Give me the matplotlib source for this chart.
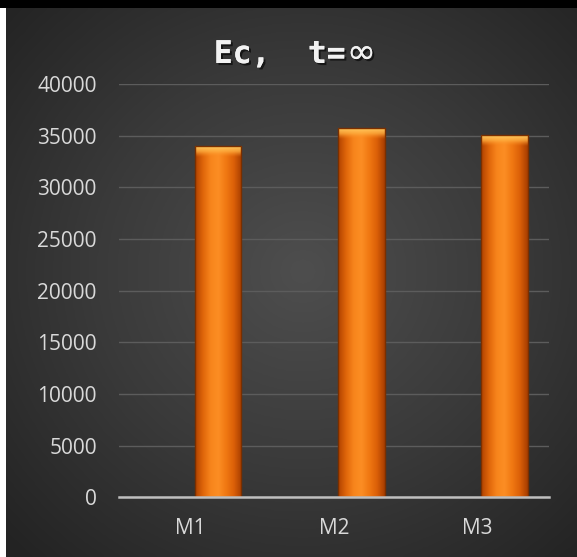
import numpy as np
import matplotlib
matplotlib.use("Agg")
import matplotlib.pyplot as plt
from matplotlib import patheffects
from matplotlib.colors import LinearSegmentedColormap
from matplotlib.patches import Rectangle

categories = ["M1", "M2", "M3"]
ec_values = [34000, 35700, 35100]
y_ticks = [0, 5000, 10000, 15000, 20000, 25000, 30000, 35000, 40000]

plt.rcParams["font.family"] = ["Open Sans", "DejaVu Sans"]

W, H = 577, 557
fig = plt.figure(figsize=(W / 100, H / 100), dpi=100)
fig.patch.set_facecolor("white")

# dark radial background of the chart area
bg = fig.add_axes([6 / W, 0, 1 - 6 / W, 1 - 8 / H])
yy, xx = np.mgrid[0:1:300j, 0:1:300j]
r = np.sqrt((xx - 0.52) ** 2 + (yy - 0.48) ** 2) / 0.72
shade = np.clip(1 - r, 0, 1)
bg_cmap = LinearSegmentedColormap.from_list("bg", ["#232323", "#3a3a3a", "#4e4e4e"])
bg.imshow(shade, cmap=bg_cmap, aspect="auto", extent=(0, 1, 0, 1), interpolation="bicubic")
bg.axis("off")
fig.add_artist(Rectangle((0, 1 - 8 / H), 1, 8 / H, transform=fig.transFigure,
                         facecolor="black", edgecolor="none"))

ax = fig.add_axes([119 / W, 1 - 497.3 / H, 430 / W, 413.3 / H])
ax.set_facecolor("none")

x = np.arange(len(categories))
bars = ax.bar(x + 0.19, ec_values, width=0.325, facecolor="none",
              edgecolor="#7a2f00", linewidth=1.0, zorder=4)

bar_cmap = LinearSegmentedColormap.from_list(
    "bar", ["#b04200", "#e0660a", "#f7851c", "#fc8e24", "#f07812", "#dc6008", "#a83e00"])
cap_cmap = LinearSegmentedColormap.from_list(
    "cap", [(1.0, 0.80, 0.38, 1.0), (1.0, 0.68, 0.25, 0.8), (0.98, 0.55, 0.13, 0.0)])
cap_h = 11 * 40000 / 413.3
for b in bars:
    x0, w, h = b.get_x(), b.get_width(), b.get_height()
    im = ax.imshow(np.linspace(0, 1, 64)[None, :], cmap=bar_cmap, aspect="auto",
                   extent=(x0, x0 + w, 0, h), interpolation="bicubic", zorder=3)
    im.set_clip_path(b)
    cap = ax.imshow(np.linspace(0, 1, 32)[:, None], cmap=cap_cmap, aspect="auto",
                    extent=(x0, x0 + w, h - cap_h, h), interpolation="bicubic",
                    zorder=3.5)
    cap.set_clip_path(b)

ax.set_xlim(-0.5, len(categories) - 0.5)
ax.set_ylim(0, 40000)
ax.set_xticks(x)
ax.set_xticklabels(categories)
ax.set_yticks(y_ticks)
ax.yaxis.grid(True, color="#5c5c5c", linewidth=1.0)
ax.set_axisbelow(True)
for s in ["top", "right", "left"]:
    ax.spines[s].set_visible(False)
ax.spines["bottom"].set_color("#bfbfbf")
ax.spines["bottom"].set_linewidth(1.8)
ax.spines["bottom"].set_zorder(5)
ax.tick_params(axis="both", length=0, colors="#d9d9d9", labelsize=15)
ax.tick_params(axis="y", pad=16)
ax.tick_params(axis="x", pad=15)

shadow = [patheffects.withSimplePatchShadow(offset=(1.5, -1.5), shadow_rgbFace="black", alpha=0.6),
          patheffects.Normal()]
base_y = 1 - 63 / H
fig.text(346 / W, base_y, "Ec,  t=", ha="right", va="baseline", color="#f2f2f2",
         fontsize=22.5, fontweight="bold", family="DejaVu Sans Mono", path_effects=shadow)
fig.text(347 / W, base_y, "∞", ha="left", va="baseline", color="#f2f2f2",
         fontsize=25, family="DejaVu Sans", path_effects=shadow)

fig.savefig("out.png", dpi=100)
